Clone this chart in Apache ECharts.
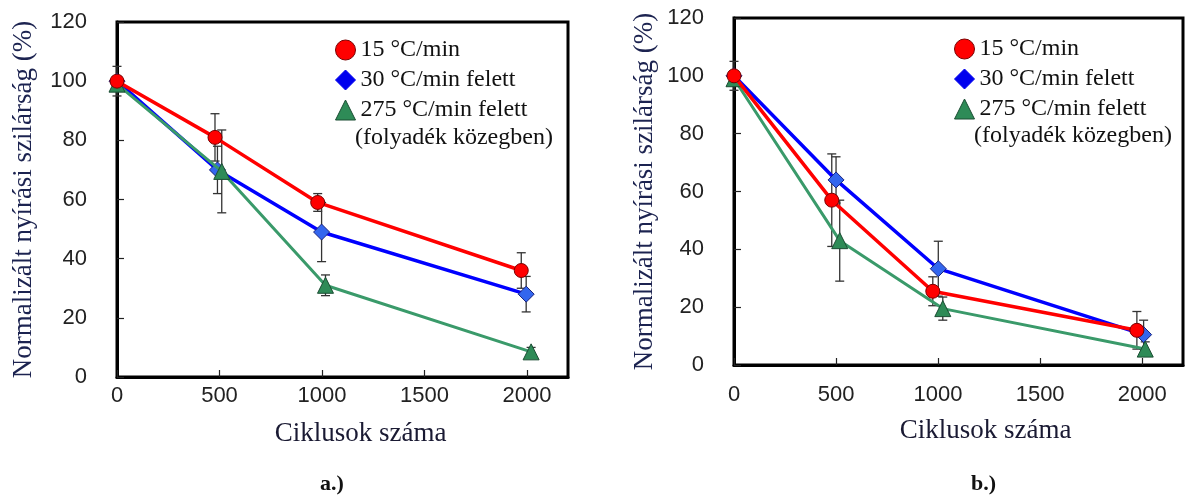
<!DOCTYPE html>
<html>
<head>
<meta charset="utf-8">
<title>Normalizált nyírási szilárság</title>
<script src="https://cdn.jsdelivr.net/npm/echarts@6/dist/echarts.min.js"></script>
<style>
  html, body { margin: 0; padding: 0; background: #fff; }
  #main { width: 1187px; height: 497px; }
</style>
</head>
<body>
<div id="main"></div>
<script>
// jelmagyarázat
var names = ['15 °C/min', '30 °C/min felett', '275 °C/min felett'];
var legendNote = '(folyadék közegben)';
var yTitle = 'Normalizált nyírási szilárság (%)';
var xTitle = 'Ciklusok száma';
var yTicks = [0, 20, 40, 60, 80, 100, 120];
var xTicks = [0, 500, 1000, 1500, 2000];

// a.) ciklusszám / szilárság (%) / hiba (+-)
var aRedX = [0, 478, 979, 1972];
var aRedY = [100, 81, 59, 36];
var aRedErr = [5, 8, 3, 6];
var aBlueX = [0, 490, 998, 1996];
var aBlueY = [100, 70, 49, 28];
var aBlueErr = [0, 8, 10, 6];
var aGreenX = [0, 511, 1017, 2020];
var aGreenY = [99, 69.5, 31, 8.5];
var aGreenErr = [0, 14, 3.5, 1.5];

// b.)
var bRedX = [0, 479, 974, 1974];
var bRedY = [100, 57, 25.5, 12];
var bRedErr = [5, 16, 5, 6.5];
var bBlueX = [0, 500, 1001, 2007];
var bBlueY = [100, 64, 33.3, 10.5];
var bBlueErr = [0, 8, 9.5, 5];
var bGreenX = [0, 518, 1023, 2015];
var bGreenY = [99, 43, 19.5, 5.5];
var bGreenErr = [0, 14, 4, 2.5];

var myChart = echarts.init(document.getElementById('main'));

function pairs (xs, ys) {
  var res = [];
  for (var i = 0; i < xs.length; i++) res.push([xs[i], ys[i]]);
  return res;
}

function errRows (xs, ys, es) {
  var res = [];
  for (var i = 0; i < xs.length; i++) {
    if (es[i] > 0) res.push([xs[i], ys[i], es[i]]);
  }
  return res;
}

// hibasav: fuggoleges vonal + ket sapka
function renderErr (params, api) {
  var x = api.value(0), y = api.value(1), e = api.value(2);
  var hi = api.coord([x, y + e]);
  var lo = api.coord([x, y - e]);
  var cap = 4.5;
  var st = { stroke: '#333', lineWidth: 1.3 };
  return {
    type: 'group',
    children: [
      { type: 'line', shape: { x1: hi[0], y1: hi[1], x2: lo[0], y2: lo[1] }, style: st },
      { type: 'line', shape: { x1: hi[0] - cap, y1: hi[1], x2: hi[0] + cap, y2: hi[1] }, style: st },
      { type: 'line', shape: { x1: lo[0] - cap, y1: lo[1], x2: lo[0] + cap, y2: lo[1] }, style: st }
    ]
  };
}

var styles = {
  red: { symbol: 'circle', size: 14, color: '#ff0000', border: '#7a0000', line: '#ff0000', width: 3.5, z: 5 },
  blue: { symbol: 'diamond', size: 16, color: '#3366ee', border: '#1a237e', line: '#0000ff', width: 3.5, z: 3 },
  green: { symbol: 'triangle', size: 16, color: '#2e8b57', border: '#1b4d33', line: '#3a9a6a', width: 3, z: 4 }
};

function lineSeries (name, st, idx, xs, ys) {
  return {
    name: name,
    type: 'line',
    xAxisIndex: idx,
    yAxisIndex: idx,
    data: pairs(xs, ys),
    symbol: st.symbol,
    symbolSize: st.size,
    z: st.z,
    itemStyle: { color: st.color, borderColor: st.border, borderWidth: 1 },
    lineStyle: { color: st.line, width: st.width }
  };
}

function errSeries (idx, xs, ys, es) {
  return {
    type: 'custom',
    xAxisIndex: idx,
    yAxisIndex: idx,
    renderItem: renderErr,
    encode: { x: 0, y: 1 },
    data: errRows(xs, ys, es),
    silent: true,
    z: 1
  };
}

function xAxisCfg (idx, labelMargin, nameGap, namePad) {
  return {
    type: 'value',
    gridIndex: idx,
    min: xTicks[0],
    max: 2200,
    interval: xTicks[1] - xTicks[0],
    axisLine: { show: true, onZero: false, lineStyle: { color: '#000', width: 3 } },
    axisTick: { show: true, inside: true, length: 7, lineStyle: { color: '#222', width: 1.2 } },
    axisLabel: {
      margin: labelMargin, fontFamily: 'Liberation Sans', fontSize: 22, color: '#222', showMaxLabel: false,
      formatter: function (v) { return String(v); }
    },
    splitLine: { show: false },
    name: xTitle,
    nameLocation: 'middle',
    nameGap: nameGap,
    nameTextStyle: { fontFamily: 'Liberation Serif', fontSize: 27, color: '#1a1a33', padding: [0, 0, 0, namePad] }
  };
}

function yAxisCfg (idx, nameGap, labelPad) {
  return {
    type: 'value',
    gridIndex: idx,
    min: yTicks[0],
    max: yTicks[yTicks.length - 1],
    interval: yTicks[1] - yTicks[0],
    axisLine: { show: true, onZero: false, lineStyle: { color: '#000', width: 3 } },
    axisTick: { show: true, inside: true, length: 7, lineStyle: { color: '#222', width: 1.2 } },
    axisLabel: { margin: 30, fontFamily: 'Liberation Sans', fontSize: 22, color: '#222', padding: labelPad },
    splitLine: { show: false },
    name: yTitle,
    nameLocation: 'middle',
    nameRotate: 90,
    nameGap: nameGap,
    nameTextStyle: { fontFamily: 'Liberation Serif', fontSize: 27, color: '#1c2350' }
  };
}

var legendData = [
  { name: names[0], icon: 'circle', itemStyle: { color: '#ff0000', borderColor: '#7a0000', borderWidth: 1 } },
  { name: names[1], icon: 'diamond', itemStyle: { color: '#0000ee', borderColor: '#0000ee', borderWidth: 1 } },
  { name: names[2], icon: 'triangle', itemStyle: { color: '#2e8b57', borderColor: '#1b4d33', borderWidth: 1 } }
];

function legendCfg (left, top) {
  return {
    data: legendData,
    orient: 'vertical',
    left: left,
    top: top,
    itemWidth: 20,
    itemHeight: 20,
    itemGap: 6,
    selectedMode: false,
    textStyle: { fontFamily: 'Liberation Serif', fontSize: 24, color: '#111', lineHeight: 20 }
  };
}

myChart.setOption({
  animation: false,
  backgroundColor: '#fff',
  grid: [
    { left: 117, top: 22, width: 451, height: 355, show: true, borderColor: '#000', borderWidth: 3 },
    { left: 734, top: 18, width: 449, height: 347, show: true, borderColor: '#000', borderWidth: 3 }
  ],
  xAxis: [xAxisCfg(0, 8, 43, 36), xAxisCfg(1, 19, 52, 54)],
  yAxis: [yAxisCfg(0, 80, [0, 0, 9, 0]), yAxisCfg(1, 76, [0, 0, 0, 0])],
  legend: [legendCfg(330, 33), legendCfg(949, 32)],
  graphic: [
    { type: 'text', left: 355, top: 126, style: { text: legendNote, fontFamily: 'Liberation Serif', fontSize: 24, fill: '#111' } },
    { type: 'text', left: 974, top: 124, style: { text: legendNote, fontFamily: 'Liberation Serif', fontSize: 24, fill: '#111' } },
    { type: 'text', left: 320, top: 473, style: { text: 'a.)', fontFamily: 'Liberation Serif', fontWeight: 'bold', fontSize: 22, fill: '#111' } },
    { type: 'text', left: 971, top: 473, style: { text: 'b.)', fontFamily: 'Liberation Serif', fontWeight: 'bold', fontSize: 22, fill: '#111' } }
  ],
  series: [
    errSeries(0, aRedX, aRedY, aRedErr),
    errSeries(0, aBlueX, aBlueY, aBlueErr),
    errSeries(0, aGreenX, aGreenY, aGreenErr),
    lineSeries(names[1], styles.blue, 0, aBlueX, aBlueY),
    lineSeries(names[2], styles.green, 0, aGreenX, aGreenY),
    lineSeries(names[0], styles.red, 0, aRedX, aRedY),
    errSeries(1, bRedX, bRedY, bRedErr),
    errSeries(1, bBlueX, bBlueY, bBlueErr),
    errSeries(1, bGreenX, bGreenY, bGreenErr),
    lineSeries(names[1], styles.blue, 1, bBlueX, bBlueY),
    lineSeries(names[2], styles.green, 1, bGreenX, bGreenY),
    lineSeries(names[0], styles.red, 1, bRedX, bRedY)
  ]
});

window.addEventListener('resize', function () {
  myChart.resize();
});
</script>
</body>
</html>
